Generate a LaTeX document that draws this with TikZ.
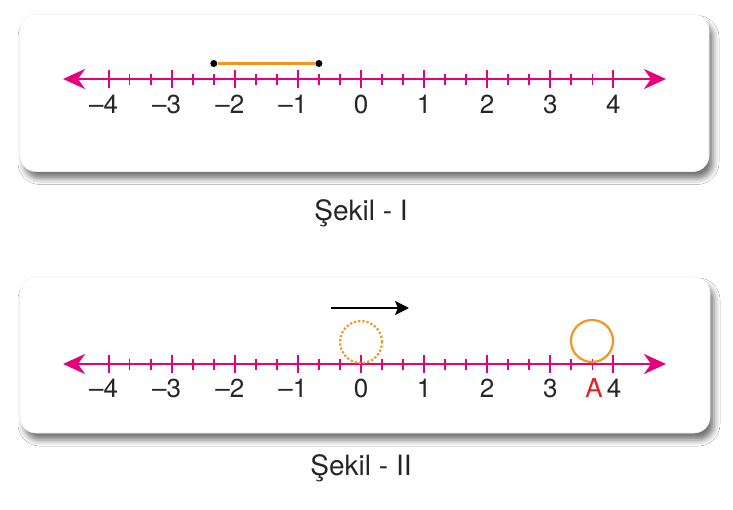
\documentclass[tikz,border=0pt]{standalone}
\usepackage{fontspec}
\setmainfont{TeX Gyre Heros}
\usetikzlibrary{shadows.blur,arrows.meta}
\definecolor{mag}{RGB}{230,0,126}
\definecolor{org}{RGB}{247,148,29}
\definecolor{redA}{RGB}{237,28,36}
\tikzset{
  panel/.style={fill=white, draw=black!6, line width=0.6pt, rounded corners=16pt, inner sep=0pt,
     blur shadow={shadow xshift=4pt, shadow yshift=-7pt, shadow blur radius=6pt, shadow opacity=55}},
  tip/.style={Triangle[length=22pt,width=20pt,inset=6pt]},
  axis/.style={mag, line width=2.6pt, {Triangle[length=22pt,width=20pt,inset=7pt]}-{Triangle[length=22pt,width=20pt,inset=7pt]}},
  majtick/.style={mag, line width=2pt},
  mintick/.style={mag, line width=1.7pt},
  lbl/.style={font=\fontsize{26}{26}\selectfont, text=black!85, inner sep=0pt},
  captxt/.style={font=\fontsize{28}{28}\selectfont, text=black!85, inner sep=0pt}
}
\begin{document}
\begin{tikzpicture}[x=1pt,y=-1pt]
\useasboundingbox (0,0) rectangle (733,509);
\fill[white] (0,0) rectangle (733,509);
% panels
\node[panel, minimum width=689pt, minimum height=157pt] (p1) at (364.5,93) {};
\node[panel, minimum width=690pt, minimum height=156pt] (p2) at (365,355) {};
% number line 1
\coordinate (l1) at (63,79);
\coordinate (r1) at (666,79);
\draw[axis] (l1) -- (r1);
\foreach \i in {-12,...,12}{
  \pgfmathsetmacro{\xx}{361+\i*63.1/3}
  \pgfmathtruncatemacro{\m}{mod(abs(\i),3)}
  \ifnum\m=0
    \draw[majtick] (\xx,70) -- (\xx,88);
  \else
    \draw[mintick] (\xx,73.5) -- (\xx,84.5);
  \fi
}
\foreach \n/\t in {-4/–4,-3/–3,-2/–2,-1/–1,0/0,1/1,2/2,3/3,4/4}{
  \node[lbl] (a\n) at ({361+\n*63.1-(\n<0?5:0)},104) {\t};
}
\node[circle, fill=black, inner sep=0pt, minimum size=7pt] (s1) at (213.8,63.5) {};
\node[circle, fill=black, inner sep=0pt, minimum size=7pt] (s2) at (318.9,63.5) {};
\draw[org, line width=2.2pt] (s1) -- (s2);
\node[captxt] (c1) at (361,213) {Şekil - I};
% number line 2
\coordinate (l2) at (63,364);
\coordinate (r2) at (666,364);
\draw[axis] (l2) -- (r2);
\foreach \i in {-12,...,12}{
  \pgfmathsetmacro{\xx}{361+\i*63.1/3}
  \pgfmathtruncatemacro{\m}{mod(abs(\i),3)}
  \ifnum\m=0
    \draw[majtick] (\xx,355) -- (\xx,373);
  \else
    \draw[mintick] (\xx,358.5) -- (\xx,369.5);
  \fi
}
\foreach \n/\t in {-4/–4,-3/–3,-2/–2,-1/–1,0/0,1/1,2/2,3/3}{
  \node[lbl] (b\n) at ({361+\n*63.1-(\n<0?5:0)},388) {\t};
}
\node[lbl] (b4) at (614,388) {4};
\node[lbl, text=redA] (A) at (594,388) {A};
\node[circle, draw=org, dotted, line width=2.2pt, minimum size=42pt, inner sep=0pt] (dc) at (361,342) {};
\node[circle, draw=org, line width=2.2pt, minimum size=42pt, inner sep=0pt] (sc) at (592,341) {};
\coordinate (ar1) at (331,308);
\coordinate (ar2) at (409,308);
\draw[line width=2.4pt, -{Triangle[length=14pt,width=14pt,inset=3pt]}] (ar1) -- (ar2);
\node[captxt] (c2) at (361,468) {Şekil - II};
\end{tikzpicture}
\end{document}
